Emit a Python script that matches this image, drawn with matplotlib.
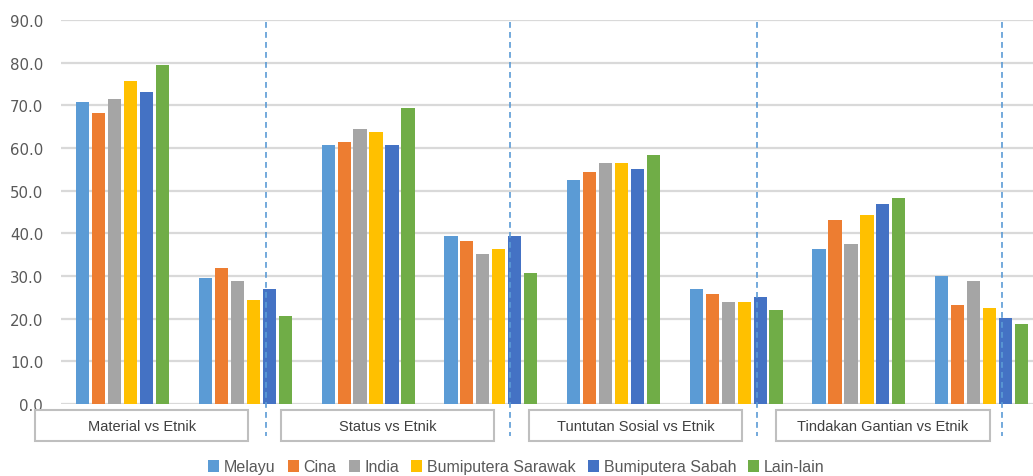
import matplotlib
matplotlib.use("Agg")
import matplotlib.pyplot as plt
from matplotlib.patches import Rectangle
import numpy as np

series = ["Melayu", "Cina", "India", "Bumiputera Sarawak", "Bumiputera Sabah", "Lain-lain"]
colors = ["#5B9BD5", "#ED7D31", "#A5A5A5", "#FFC000", "#4472C4", "#70AD47"]

# 8 groups (two sub-groups per category), values per series
melayu   = [70.7, 29.5, 60.7, 39.4, 52.6, 27.0, 36.3, 30.1]
cina     = [68.2, 31.9, 61.3, 38.2, 54.4, 25.7, 43.2, 23.2]
india    = [71.4, 28.8, 64.4, 35.1, 56.4, 23.8, 37.6, 28.8]
sarawak  = [75.7, 24.4, 63.8, 36.3, 56.4, 23.8, 44.4, 22.6]
sabah    = [73.2, 27.0, 60.7, 39.4, 55.1, 25.1, 46.9, 20.1]
lainlain = [79.4, 20.7, 69.4, 30.7, 58.3, 22.0, 48.2, 18.8]
values = [melayu, cina, india, sarawak, sabah, lainlain]

categories = ["Material vs Etnik", "Status vs Etnik", "Tuntutan Sosial vs Etnik", "Tindakan Gantian vs Etnik"]
yticks = [0, 10, 20, 30, 40, 50, 60, 70, 80, 90]

W, H = 1033, 477
fig = plt.figure(figsize=(W / 100, H / 100), dpi=100)
ax = fig.add_axes([61.3 / W, 72 / H, 981.7 / W, 384 / H])

n_groups = len(melayu)
x = np.arange(n_groups)
pitch = 0.13
bw = 0.108
for i, (name, vals, c) in enumerate(zip(series, values, colors)):
    ax.bar(x + (i - 2.5) * pitch, vals, width=bw, color=c, label=name, zorder=3)

ax.set_xlim(-0.5, n_groups - 0.5)
ax.set_ylim(0, 90)
ax.set_yticks(yticks)
ax.set_yticklabels([f"{v:.1f}" for v in yticks], fontsize=10.8, color="#595959",
                   family="DejaVu Sans")
ax.tick_params(axis="y", length=0, pad=13)
ax.set_xticks([])
ax.grid(axis="y", color="#D9D9D9", linewidth=1.6, zorder=0)
for s in ax.spines.values():
    s.set_visible(False)

# dashed separators
for xs in [1.165, 3.16, 5.17, 7.165]:
    ax.plot([xs, xs], [89.5, -7.5], linestyle=(0, (3.5, 2.5)), color="#5B9BD5",
            linewidth=1.2, clip_on=False, zorder=4)

# category label boxes
box_w = 1.74
for xc, lab in zip([0.155, 2.16, 4.18, 6.195], categories):
    r = Rectangle((xc - box_w / 2, -8.7), box_w, 7.3, facecolor="white",
                  edgecolor="#BFBFBF", linewidth=1.5, clip_on=False, zorder=5)
    ax.add_patch(r)
    ax.text(xc, -5.05, lab, ha="center", va="center", fontsize=10.5,
            family="Liberation Sans", color="#404040", zorder=6, clip_on=False)

leg = fig.legend(loc="center", bbox_to_anchor=(0.5, 9 / H), ncol=6, frameon=False,
                 prop={"family": "Liberation Sans", "size": 11.5},
                 handlelength=0.7, handleheight=0.75, handletextpad=0.3,
                 columnspacing=0.75, labelcolor="#595959")

fig.savefig("out.png", dpi=100)
